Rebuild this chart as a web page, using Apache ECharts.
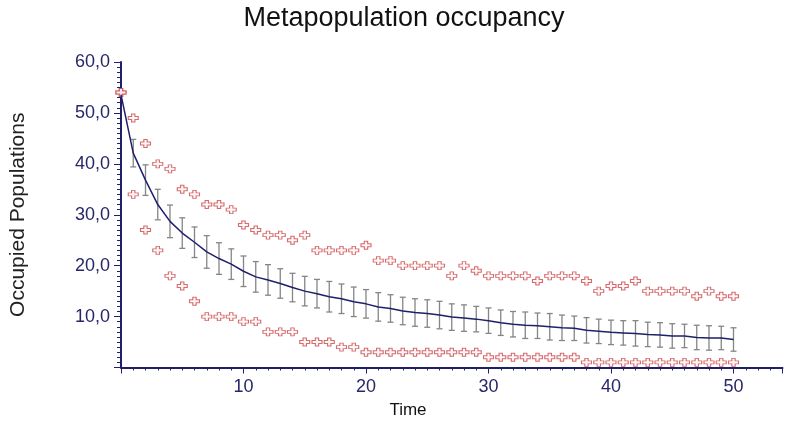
<!DOCTYPE html>
<html>
<head>
<meta charset="utf-8">
<script src="https://cdn.jsdelivr.net/npm/echarts@6/dist/echarts.min.js"></script>
<style>
  html, body { margin: 0; padding: 0; background: #ffffff; }
  #chart { width: 789px; height: 423px; }
</style>
</head>
<body>
<div id="chart"></div>
<script>
// Time steps of the simulation
const time = [0, 1, 2, 3, 4, 5, 6, 7, 8, 9, 10, 11, 12, 13, 14, 15, 16, 17, 18, 19, 20,
  21, 22, 23, 24, 25, 26, 27, 28, 29, 30, 31, 32, 33, 34, 35, 36, 37, 38, 39, 40,
  41, 42, 43, 44, 45, 46, 47, 48, 49, 50];

// Mean number of occupied populations across replicates
const meanOccupied = [53.6, 42.1, 36.8, 32.0, 28.7, 26.4, 24.6, 22.7, 21.4, 20.3, 18.9,
  17.8, 17.2, 16.5, 15.7, 15.0, 14.5, 13.9, 13.5, 12.9, 12.5,
  11.9, 11.6, 11.1, 10.8, 10.6, 10.3, 9.9, 9.7, 9.5, 9.2,
  8.8, 8.5, 8.3, 8.2, 8.0, 7.8, 7.7, 7.3, 7.1, 6.9,
  6.8, 6.7, 6.5, 6.4, 6.2, 6.2, 5.9, 5.8, 5.8, 5.5];

// Half-width of the error bar around the mean
const errHalf = [0, 2.7, 3.0, 3.0, 3.2, 3.0, 3.0, 3.2, 3.1, 3.0, 3.0,
  3.0, 3.0, 2.9, 2.8, 2.9, 2.8, 3.0, 2.9, 2.9, 2.8,
  2.8, 2.7, 2.7, 2.7, 2.7, 2.7, 2.6, 2.6, 2.5, 2.5,
  2.5, 2.5, 2.6, 2.5, 2.6, 2.5, 2.4, 2.5, 2.4, 2.4,
  2.4, 2.5, 2.4, 2.4, 2.4, 2.3, 2.4, 2.4, 2.3, 2.3];

// Highest and lowest occupancy among replicates
const maxOccupied = [54, 49, 44, 40, 39, 35, 34, 32, 32, 31, 28,
  27, 26, 26, 25, 26, 23, 23, 23, 23, 24,
  21, 21, 20, 20, 20, 20, 18, 20, 19, 18,
  18, 18, 18, 17, 18, 18, 18, 17, 15, 16,
  16, 17, 15, 15, 15, 15, 14, 15, 14, 14];

const minOccupied = [54, 34, 27, 23, 18, 16, 13, 10, 10, 10, 9,
  9, 7, 7, 7, 5, 5, 5, 4, 4, 3,
  3, 3, 3, 3, 3, 3, 3, 3, 3, 2,
  2, 2, 2, 2, 2, 2, 2, 1, 1, 1,
  1, 1, 1, 1, 1, 1, 1, 1, 1, 1];

const navy = '#1f1f6b';
const labelColor = '#272769';
const barColor = '#858585';
const dotColor = '#c9474b';
const fontFamily = '"Liberation Sans", Arial, sans-serif';

const meanData = time.map((t, i) => [t, meanOccupied[i]]);
const barData = time
  .map((t, i) => [t, meanOccupied[i] - errHalf[i], meanOccupied[i] + errHalf[i]])
  .filter((d, i) => errHalf[i] > 0);
const maxData = time.map((t, i) => [t, maxOccupied[i]]);
const minData = time.map((t, i) => [t, minOccupied[i]]);

// Small outlined plus used for the extreme replicates
const plusSymbol = 'path://M3,0 L6,0 L6,2.5 L9,2.5 L9,5.5 L6,5.5 L6,8 L3,8 L3,5.5 L0,5.5 L0,2.5 L3,2.5 Z';

const dotSeries = (name, data) => ({
  name,
  type: 'scatter',
  data,
  symbol: plusSymbol,
  symbolSize: [10, 8],
  itemStyle: { color: '#fff4f4', borderColor: dotColor, borderWidth: 1 },
  z: 3
});

const timeMax = 54;

const chart = echarts.init(document.getElementById('chart'), null, { renderer: 'canvas' });

chart.setOption({
  animation: false,
  backgroundColor: '#ffffff',
  title: [
    {
      text: 'Metapopulation occupancy',
      left: 404,
      top: 5,
      textAlign: 'center',
      padding: 0,
      textStyle: { fontFamily, fontSize: 27, fontWeight: 'normal', color: '#111111' }
    },
    {
      text: 'Time',
      left: 408,
      top: 402,
      textAlign: 'center',
      padding: 0,
      textStyle: { fontFamily, fontSize: 17, fontWeight: 'normal', color: '#111111' }
    }
  ],
  grid: { left: 121, right: 6.5, top: 62, bottom: 55.5 },
  xAxis: [
    {
      // unit ticks along the time axis
      type: 'value',
      position: 'bottom',
      min: 0,
      max: timeMax,
      interval: 1,
      axisLine: { show: true, onZero: false, lineStyle: { color: navy, width: 2 } },
      axisTick: { show: true, length: 3, lineStyle: { color: navy, width: 1 } },
      splitLine: { show: false },
      axisLabel: { show: false }
    },
    {
      // labelled ticks every 10 time steps
      type: 'value',
      position: 'bottom',
      min: 0,
      max: timeMax,
      interval: 10,
      axisLine: { show: false, onZero: false },
      axisTick: { show: true, length: 6, lineStyle: { color: navy, width: 1 } },
      splitLine: { show: false },
      axisLabel: {
        margin: 11,
        fontFamily,
        fontSize: 18,
        color: labelColor,
        formatter: v => (v > 0 && v % 10 === 0 ? String(v) : '')
      }
    }
  ],
  yAxis: {
    type: 'value',
    min: 0,
    max: 60,
    interval: 10,
    name: 'Occupied Populations',
    nameLocation: 'middle',
    nameRotate: 90,
    nameGap: 92,
    nameTextStyle: { fontFamily, fontSize: 21, color: '#222222' },
    axisLine: { show: true, onZero: false, lineStyle: { color: navy, width: 2 } },
    axisTick: { show: true, length: 7, lineStyle: { color: navy, width: 1 } },
    minorTick: { show: true, splitNumber: 10, length: 4, lineStyle: { color: navy, width: 1 } },
    splitLine: { show: false },
    axisLabel: {
      margin: 11,
      fontFamily,
      fontSize: 18,
      color: labelColor,
      formatter: v => (v > 0 ? v.toFixed(1).replace('.', ',') : '')
    }
  },
  series: [
    {
      name: 'Error',
      type: 'custom',
      data: barData,
      z: 2,
      renderItem(params, api) {
        const x = api.value(0);
        const lo = api.coord([x, api.value(1)]);
        const hi = api.coord([x, api.value(2)]);
        const cap = 3;
        const style = { stroke: barColor, lineWidth: 1.3 };
        return {
          type: 'group',
          children: [
            { type: 'line', shape: { x1: lo[0], y1: lo[1], x2: hi[0], y2: hi[1] }, style },
            { type: 'line', shape: { x1: lo[0] - cap, y1: lo[1], x2: lo[0] + cap, y2: lo[1] }, style },
            { type: 'line', shape: { x1: hi[0] - cap, y1: hi[1], x2: hi[0] + cap, y2: hi[1] }, style }
          ]
        };
      }
    },
    dotSeries('Maximum', maxData),
    dotSeries('Minimum', minData),
    {
      name: 'Mean',
      type: 'line',
      data: meanData,
      symbol: 'none',
      lineStyle: { color: navy, width: 1.5 },
      z: 4
    }
  ]
});
</script>
</body>
</html>
